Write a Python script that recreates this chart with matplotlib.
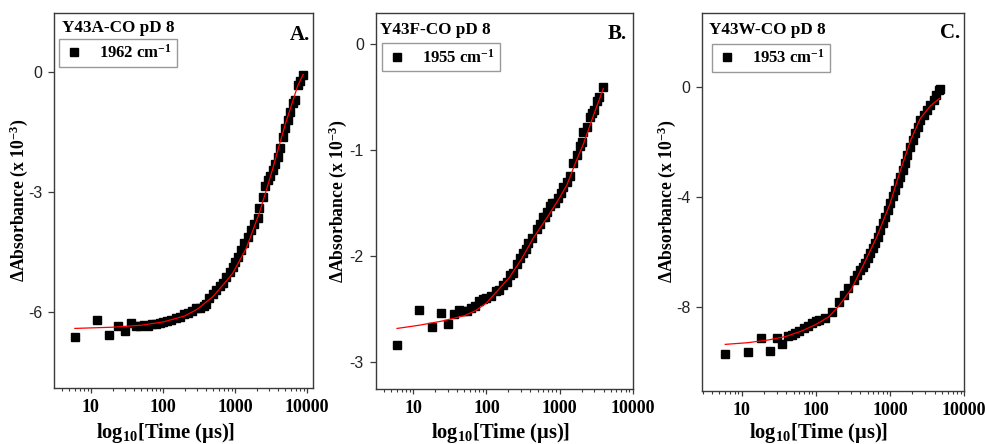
import matplotlib
matplotlib.use("Agg")
import matplotlib.pyplot as plt
from matplotlib.ticker import FixedLocator, LogLocator, NullFormatter, FixedFormatter

plt.rcParams['font.family'] = ['Liberation Serif', 'DejaVu Serif']
plt.rcParams['font.weight'] = 'bold'
plt.rcParams['axes.unicode_minus'] = False
plt.rcParams['mathtext.fontset'] = 'custom'
plt.rcParams['mathtext.rm'] = 'Liberation Serif:bold'
plt.rcParams['mathtext.it'] = 'Liberation Serif:bold:italic'
plt.rcParams['mathtext.bf'] = 'Liberation Serif:bold'

# ---------------- data ----------------
titles = ["Y43A-CO pD 8", "Y43F-CO pD 8", "Y43W-CO pD 8"]
letters = ["A.", "B.", "C."]
legend_labels = ["1962 cm$^{-1}$", "1955 cm$^{-1}$", "1953 cm$^{-1}$"]
x_tick_values = [10, 100, 1000, 10000]
x_tick_labels = ["10", "100", "1000", "10000"]
y_ticks_A = [-6, -3, 0]
y_ticks_B = [-3, -2, -1, 0]
y_ticks_C = [-8, -4, 0]

t_A = [6, 12, 18, 24, 30, 36, 42, 48, 55, 62, 70, 80, 90, 100, 115, 130, 150, 170,
       195, 220, 250, 290, 330, 370, 400, 440, 490, 550, 610, 680, 760, 850, 930,
       1000, 1090, 1200, 1350, 1500, 1660, 1850, 2060, 2170, 2410, 2600, 2830,
       3050, 3330, 3600, 3900, 4200, 4580, 5000, 5380, 5800, 6300, 6900, 7380,
       8000, 8830]
y_A = [-6.63, -6.20, -6.58, -6.34, -6.47, -6.28, -6.34, -6.36, -6.33, -6.35, -6.31,
       -6.30, -6.28, -6.24, -6.22, -6.20, -6.16, -6.12, -6.06, -6.02, -5.98, -5.91,
       -5.90, -5.84, -5.80, -5.65, -5.55, -5.45, -5.36, -5.28, -5.12, -5.00, -4.87,
       -4.75, -4.62, -4.45, -4.28, -4.12, -3.95, -3.80, -3.65, -3.40, -3.12, -2.85,
       -2.70, -2.60, -2.45, -2.30, -2.12, -1.90, -1.62, -1.40, -1.20, -1.00, -0.78,
       -0.70, -0.33, -0.22, -0.08]
fit_t_A = [6, 20, 50, 100, 200, 300, 490, 700, 930, 1430, 2170, 2640, 3300, 4110,
           5000, 6620, 7400, 8830]
fit_y_A = [-6.41, -6.38, -6.33, -6.25, -6.10, -5.93, -5.62, -5.30, -5.03, -4.41,
           -3.53, -3.03, -2.45, -1.83, -1.30, -0.62, -0.35, -0.06]

t_B = [6, 12, 18, 24, 30, 36, 42, 48, 55, 62, 70, 80, 90, 100, 116, 135, 150, 170,
       190, 210, 230, 259, 290, 320, 350, 373, 420, 487, 540, 600, 635, 680, 740,
       800, 870, 950, 1050, 1130, 1250, 1390, 1550, 1720, 1900, 2010, 2120, 2360,
       2610, 2760, 3000, 3220, 3500, 3980]
y_B = [-2.84, -2.51, -2.67, -2.53, -2.64, -2.54, -2.51, -2.52, -2.52, -2.49, -2.47,
       -2.42, -2.40, -2.39, -2.37, -2.33, -2.32, -2.27, -2.24, -2.18, -2.16, -2.07,
       -2.02, -1.97, -1.93, -1.88, -1.83, -1.74, -1.70, -1.63, -1.63, -1.58, -1.53,
       -1.50, -1.50, -1.45, -1.40, -1.35, -1.30, -1.24, -1.12, -1.05, -0.96, -0.92,
       -0.83, -0.78, -0.69, -0.65, -0.62, -0.54, -0.50, -0.41]
fit_t_B = [6, 12, 25, 50, 72, 100, 153, 206, 300, 437, 700, 1000, 1260, 1700, 2130,
           3000, 3980]
fit_y_B = [-2.68, -2.65, -2.61, -2.56, -2.51, -2.44, -2.30, -2.20, -2.03, -1.83,
           -1.62, -1.45, -1.33, -1.10, -0.94, -0.65, -0.42]

t_C = [6, 12, 18, 24, 30, 35, 42, 48, 53, 60, 69, 78, 89, 100, 110, 135, 167, 204,
       240, 276, 323, 360, 397, 430, 465, 500, 541, 590, 635, 690, 745, 800, 865,
       930, 1000, 1090, 1180, 1270, 1370, 1480, 1590, 1720, 1860, 2020, 2190, 2380,
       2570, 2850, 3160, 3500, 3890, 4200, 4540, 4700]
y_C = [-9.69, -9.61, -9.10, -9.57, -9.10, -9.31, -9.04, -9.00, -8.94, -8.86, -8.76,
       -8.68, -8.58, -8.50, -8.46, -8.40, -8.16, -7.80, -7.55, -7.31, -7.01, -6.82,
       -6.65, -6.52, -6.40, -6.22, -6.04, -5.85, -5.68, -5.45, -5.19, -4.95, -4.71,
       -4.47, -4.23, -3.98, -3.74, -3.50, -3.26, -3.02, -2.78, -2.48, -2.18, -1.93,
       -1.69, -1.45, -1.21, -1.03, -0.85, -0.65, -0.48, -0.30, -0.12, -0.08]
fit_t_C = [6, 12, 23, 40, 65, 100, 150, 204, 306, 450, 667, 1000, 1378, 1900, 2570,
           3500, 4700]
fit_y_C = [-9.34, -9.28, -9.18, -9.05, -8.85, -8.62, -8.34, -7.95, -7.31, -6.40,
           -5.44, -4.25, -3.05, -1.95, -1.15, -0.70, -0.42]

panels = [
    dict(t=t_A, y=y_A, ft=fit_t_A, fy=fit_y_A, yt=y_ticks_A,
         xlim=(3.08, 12100), ylim=(-7.9, 1.475),
         rect=[0.0548, 0.1261, 0.2630, 0.8446],
         leg=(0.019, 0.931), title=(0.030, 0.950), letter=(0.988, 0.928),
         ylab=(-0.094, 0.5), xlab=(0.432, -0.088)),
    dict(t=t_B, y=y_B, ft=fit_t_B, fy=fit_y_B, yt=y_ticks_B,
         xlim=(3.06, 10200), ylim=(-3.25, 0.29),
         rect=[0.3814, 0.1239, 0.2615, 0.8468],
         leg=(0.026, 0.919), title=(0.017, 0.943), letter=(0.974, 0.930),
         ylab=(-0.102, 0.5), xlab=(0.486, -0.084)),
    dict(t=t_C, y=y_C, ft=fit_t_C, fy=fit_y_C, yt=y_ticks_C,
         xlim=(2.94, 10000), ylim=(-11.02, 2.67),
         rect=[0.7130, 0.1200, 0.2657, 0.8507],
         leg=(0.038, 0.919), title=(0.026, 0.944), letter=(0.985, 0.933),
         ylab=(-0.093, 0.5), xlab=(0.446, -0.079)),
]

fig = plt.figure(figsize=(9.85, 4.44), dpi=100)
spine_col = '#3a3a3a'

for i, p in enumerate(panels):
    ax = fig.add_axes(p['rect'])
    ax.plot(p['t'], p['y'], linestyle='none', marker='s', markersize=5.6,
            color='black', label=legend_labels[i], zorder=2)
    ax.plot(p['ft'], p['fy'], color='red', linewidth=0.9, zorder=3)
    ax.set_xscale('log')
    ax.set_xlim(*p['xlim'])
    ax.set_ylim(*p['ylim'])

    ax.xaxis.set_major_locator(FixedLocator(x_tick_values))
    ax.xaxis.set_major_formatter(FixedFormatter(x_tick_labels))
    ax.xaxis.set_minor_locator(LogLocator(base=10, subs=range(2, 10), numticks=20))
    ax.xaxis.set_minor_formatter(NullFormatter())
    ax.yaxis.set_major_locator(FixedLocator(p['yt']))
    ax.set_yticklabels([str(v) for v in p['yt']])

    for s in ['left', 'bottom', 'top', 'right']:
        ax.spines[s].set_color(spine_col)
        ax.spines[s].set_linewidth(1.0)

    ax.tick_params(axis='x', which='major', direction='out', length=3.5, width=0.9,
                   color=spine_col, pad=4.5, labelsize=13)
    ax.tick_params(axis='x', which='minor', direction='out', length=2, width=0.8,
                   color=spine_col)
    ax.tick_params(axis='y', which='major', direction='out', length=4, width=0.9,
                   color=spine_col, pad=4.5, labelsize=11.5)
    for lab in ax.get_xticklabels():
        lab.set_fontweight('bold')
        lab.set_fontfamily(['Liberation Serif'])
    for lab in ax.get_yticklabels():
        lab.set_fontweight('normal')
        lab.set_fontfamily(['Liberation Sans'])
        lab.set_color('#222222')

    ax.set_ylabel("ΔAbsorbance (x 10$^{-3}$)", fontsize=12.7, fontweight='bold')
    ax.yaxis.set_label_coords(*p['ylab'])
    ax.set_xlabel("log$_{10}$[Time (μs)]", fontsize=14.8, fontweight='bold')
    ax.xaxis.set_label_coords(*p['xlab'])

    ax.text(p['title'][0], p['title'][1], titles[i], transform=ax.transAxes,
            fontsize=12.3, fontweight='bold', ha='left', va='baseline')
    ax.text(p['letter'][0], p['letter'][1], letters[i], transform=ax.transAxes,
            fontsize=15, fontweight='bold', ha='right', va='baseline')

    leg = ax.legend(loc='upper left', bbox_to_anchor=p['leg'], borderaxespad=0,
                    frameon=True, fancybox=False, edgecolor='#808080',
                    prop={'family': 'Liberation Serif', 'weight': 'bold', 'size': 12},
                    handlelength=1.2, handletextpad=0.9, borderpad=0.3)
    leg.get_frame().set_linewidth(1.0)

fig.savefig("out.png", dpi=100)
